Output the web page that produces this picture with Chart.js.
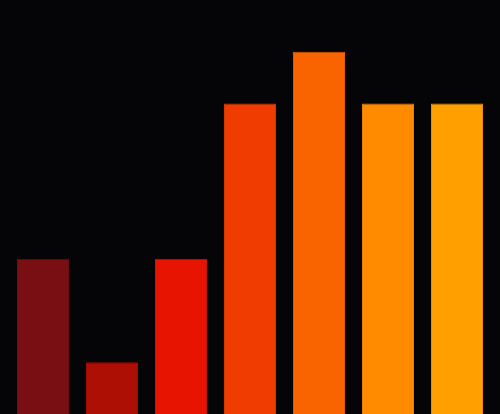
<!DOCTYPE html>
<html>
<head>
<meta charset="utf-8">
<script src="https://cdn.jsdelivr.net/npm/chart.js@4/dist/chart.umd.min.js"></script>
<style>
html,body{margin:0;padding:0;background:#050406;}
#wrap{width:500px;height:414px;}
</style>
</head>
<body>
<div id="wrap"><canvas id="c"></canvas></div>
<script>
const categories = ["A","B","C","D","E","F","G"];
const values = [3, 1, 3, 6, 7, 6, 6];
const barColors = ["#7a0f13", "#ae0f05", "#e61400", "#f03c00", "#fa6400", "#ff8c00", "#ffa000"];
const borderColors = ["#6e0d11", "#9c0d04", "#cf1200", "#d83600", "#e15a00", "#e67e00", "#e69000"];

new Chart(document.getElementById('c'), {
  type: 'bar',
  data: {
    labels: categories,
    datasets: [{
      data: values,
      backgroundColor: barColors,
      borderColor: borderColors,
      borderWidth: 1,
      barPercentage: 0.754,
      categoryPercentage: 1
    }]
  },
  options: {
    responsive: true,
    maintainAspectRatio: false,
    animation: false,
    layout: { padding: { left: 8.5, right: 8.5, top: 0, bottom: 0 } },
    plugins: { legend: { display: false }, tooltip: { enabled: false } },
    scales: {
      x: { display: false, offset: true },
      y: { display: false, min: 0, max: 8 }
    }
  }
});
</script>
</body>
</html>
